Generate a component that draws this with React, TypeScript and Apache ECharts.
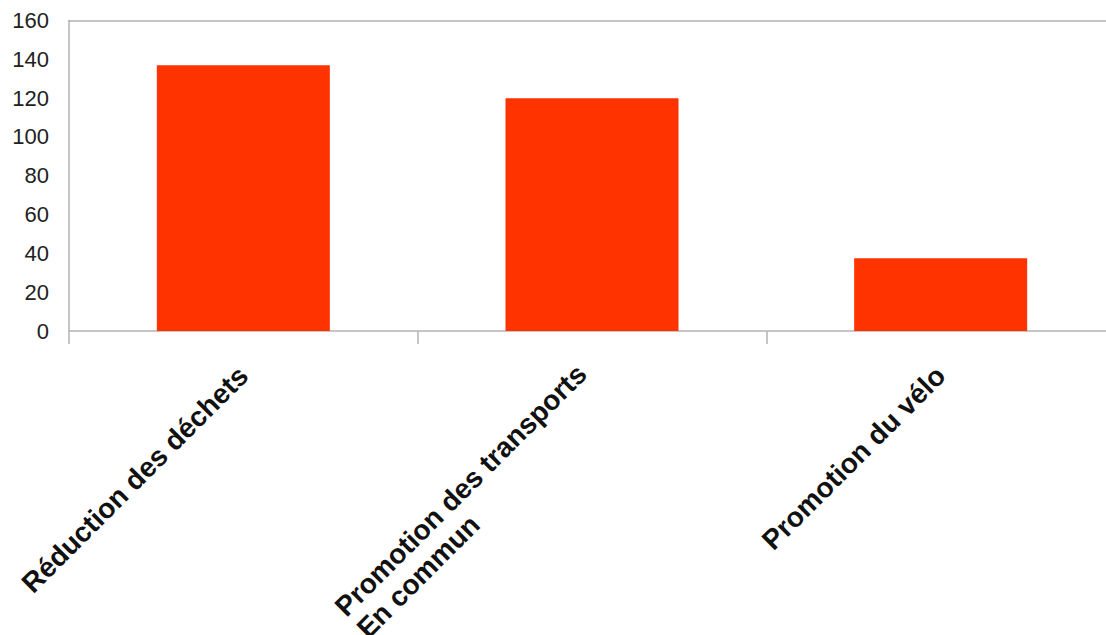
import React, { useEffect, useRef } from "react";
import * as echarts from "echarts";

const categories = ["Réduction des déchets", "Promotion des transports\nEn commun", "Promotion du vélo"];
const values = [137, 120, 37.5];
const yTicks = { min: 0, max: 160, interval: 20 };

export default function App() {
  const ref = useRef<HTMLDivElement>(null);
  useEffect(() => {
    if (!ref.current) return;
    const chart = echarts.init(ref.current, null, { renderer: "svg" });
    const axisColor = "#b3b3b3";
    const fs = 28;
    chart.setOption({
      animation: false,
      backgroundColor: "#ffffff",
      grid: { left: 69, top: 20.5, width: 1046, bottom: 304, containLabel: false, outerBoundsMode: "none" },
      xAxis: [
        {
          type: "category",
          data: categories.map((c, i) =>
            i === 1 ? { value: c, textStyle: { padding: [14, 6, 0, 0] } } : { value: c }
          ),
          position: "bottom",
          axisLine: { show: true, lineStyle: { color: axisColor, width: 1.5 } },
          axisTick: { show: true, length: 13, alignWithLabel: false, lineStyle: { color: axisColor, width: 1.5 } },
          axisLabel: {
            rotate: 45,
            margin: 40,
            interval: 0,
            fontFamily: "Liberation Sans",
            fontWeight: "bold",
            fontSize: fs,
            lineHeight: 31,
            color: "#111",
            formatter: (v: string) =>
              v
                .split("\n")
                .map((l) => "{l|" + l + "}")
                .join("\n"),
            rich: {
              l: {
                align: "left",
                fontFamily: "Liberation Sans",
                fontWeight: "bold",
                fontSize: fs,
                lineHeight: 31,
                color: "#111",
              },
            },
          },
          splitLine: { show: false },
        },
        {
          type: "category",
          data: categories,
          position: "top",
          axisLine: { show: true, lineStyle: { color: axisColor, width: 1.5 } },
          axisTick: { show: false },
          axisLabel: { show: false },
          splitLine: { show: false },
        },
      ],
      yAxis: {
        type: "value",
        min: yTicks.min,
        max: yTicks.max,
        interval: yTicks.interval,
        axisLine: { show: true, lineStyle: { color: axisColor, width: 1.5 } },
        axisTick: { show: false },
        splitLine: { show: false },
        axisLabel: {
          fontFamily: "Liberation Sans",
          fontSize: 22,
          color: "#222",
          margin: 20,
        },
      },
      series: [
        {
          type: "bar",
          data: values,
          barWidth: 173,
          itemStyle: { color: "#ff3300" },
        },
      ],
    });
    return () => chart.dispose();
  }, []);
  return (
    <div
      ref={ref}
      style={{ position: "fixed", left: 0, top: 0, width: 1106, height: 635 }}
    />
  );
}
